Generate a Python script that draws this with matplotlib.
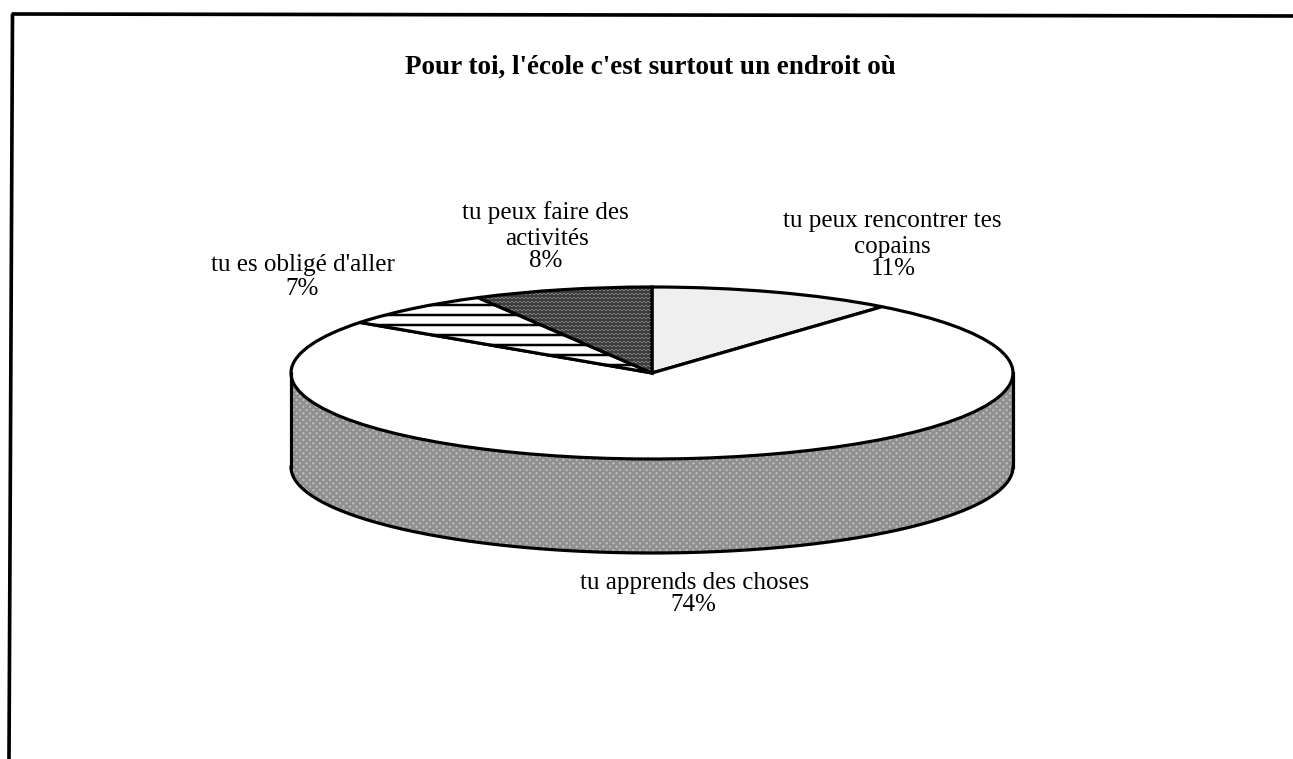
import numpy as np
import matplotlib
matplotlib.use('Agg')
from matplotlib import pyplot as plt

title = "Pour toi, l'école c'est surtout un endroit où"
shares = [11, 74, 7, 8]
labels = ['tu peux rencontrer tes\ncopains', 'tu apprends des choses',
          "tu es obligé d'aller", 'tu peux faire des\nactivités']
pct_labels = ['11%', '74%', '7%', '8%']

W, H = 1293, 759
DPI = 120
cx, cy, rx, ry = 652, 373, 361, 86
depth = 94

plt.rcParams['font.family'] = ['Liberation Serif']
plt.rcParams['hatch.linewidth'] = 1.5

fig = plt.figure(figsize=(W / DPI, H / DPI), dpi=DPI)
ax = fig.add_axes([0, 0, 1, 1])
ax.axis('off')

# pie on a squashed axis, so unit circle -> ellipse in pixels
def px(x):
    return (x - cx) / rx

def py(y):
    return (cy - y) / ry

# side wall of the disc
t = np.linspace(np.pi, 2 * np.pi, 200)
xs = np.cos(t)
ys = np.sin(t)
d = depth / ry
ax.fill_between(xs, ys, ys - d, facecolor='#bdbdbd', edgecolor='#8f8f8f', hatch='xxxxxx', linewidth=0)
ax.plot(xs, ys - d, color='black', lw=1.9)
ax.plot([-1, -1], [0, -d], color='black', lw=1.9)
ax.plot([1, 1], [0, -d], color='black', lw=1.9)

wedges, _ = ax.pie(shares, startangle=90, counterclock=False, radius=1, center=(0, 0), frame=True,
                   wedgeprops={'edgecolor': 'black', 'linewidth': 1.9})
ax.axis('off')
ax.set_aspect('auto')
ax.set_xlim(px(0), px(W))
ax.set_ylim(py(H), py(0))

wedges[0].set_facecolor('#efefef')
wedges[1].set_facecolor('white')
wedges[2].set_facecolor('white')
wedges[2].set_hatch('--')
wedges[3].set_facecolor('#8a8a8a')
wedges[3].set_hatch('.....')

ax.text(px(650), py(67), title, fontsize=16.3, fontweight='bold', ha='center', va='center', color='black')

# label lines are placed from their centres
label_pos = [[(892, 221), (892, 247)], [(695, 583)], [(303, 265)], [(545, 213), (547, 239)]]
pct_pos = [(893, 269), (693, 605), (302, 289), (546, 261)]
for name, pct, lp, pp in zip(labels, pct_labels, label_pos, pct_pos):
    for line, (x, y) in zip(name.split('\n'), lp):
        ax.text(px(x), py(y), line, fontsize=15.1, ha='center', va='center', color='black')
    ax.text(px(pp[0]), py(pp[1]), pct, fontsize=15, ha='center', va='center', color='black')

# frame of the scanned page, slightly skewed, no right or bottom edge
ax.plot([px(12.5), px(9)], [py(14), py(H)], color='black', lw=2.2, solid_capstyle='butt')
ax.plot([px(11.5), px(W)], [py(14), py(16)], color='black', lw=2.2, solid_capstyle='butt')

fig.savefig('out.png', dpi=DPI)
